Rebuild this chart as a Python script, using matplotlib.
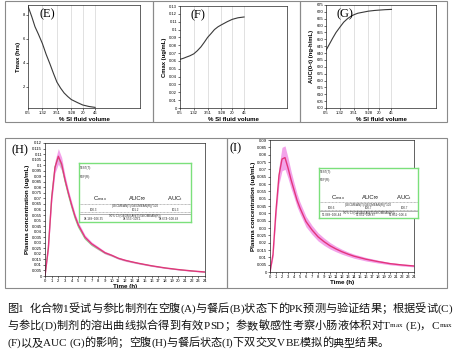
import matplotlib
matplotlib.use('Agg')
import matplotlib.pyplot as plt
import matplotlib.transforms as mtrans
from matplotlib.patches import Rectangle
from matplotlib.lines import Line2D
from matplotlib.ticker import FuncFormatter

# ---------------- data ----------------
si_ticks = [0.5, 1.32, 3.51, 9.28, 20, 46]
si_tick_labels = ['0.5', '1.32', '3.51', '9.28', '20', '46']
si_x = [0.5, 0.65, 0.8, 1.0, 1.32, 1.7, 2.2, 2.8, 3.51, 4.5, 5.7, 7.3, 9.28, 14, 20, 30, 46]
tmax_hrs = [8.7, 7.8, 7.0, 6.4, 5.6, 4.7, 3.9, 3.1, 2.4, 1.9, 1.5, 1.2, 0.95, 0.7, 0.5, 0.38, 0.3]
cmax_ugml = [0.062, 0.0635, 0.065, 0.0665, 0.069, 0.073, 0.078, 0.084, 0.090, 0.095, 0.100, 0.1035,
             0.106, 0.110, 0.113, 0.115, 0.116]
auc_nghml = [642, 647, 651, 655, 659, 662.5, 665, 666.8, 668, 669, 669.5, 670, 670.5, 671, 671.3, 671.6, 671.8]

time_h = [0, 0.5, 1, 1.5, 2, 2.5, 3, 3.5, 4, 4.5, 5, 6, 7, 8, 9, 10, 11, 12, 13, 14, 16, 18, 20, 22, 24]
h_mean = [0, 0.025, 0.070, 0.098, 0.108, 0.101, 0.087, 0.075, 0.064, 0.054, 0.046, 0.035, 0.029, 0.025,
          0.021, 0.0187, 0.016, 0.0142, 0.0128, 0.0115, 0.0092, 0.0073, 0.0058, 0.0046, 0.0036]
h_low = [0, 0.023, 0.066, 0.093, 0.101, 0.095, 0.083, 0.072, 0.061, 0.0515, 0.0435, 0.033, 0.0273, 0.0235,
         0.0198, 0.0177, 0.0151, 0.0133, 0.012, 0.0108, 0.0086, 0.0068, 0.0054, 0.0042, 0.0032]
h_high = [0, 0.027, 0.074, 0.104, 0.115, 0.107, 0.091, 0.078, 0.067, 0.0565, 0.0485, 0.037, 0.0307, 0.0265,
          0.0222, 0.0197, 0.0169, 0.0151, 0.0136, 0.0122, 0.0098, 0.0078, 0.0062, 0.005, 0.004]
h_ref = [0, 0.026, 0.072, 0.099, 0.107, 0.099, 0.085, 0.073, 0.062, 0.052, 0.0442, 0.0335, 0.0278, 0.0241,
         0.0205, 0.0183, 0.0157, 0.014, 0.0126, 0.0113, 0.0091, 0.0072, 0.0057, 0.0045, 0.0035]

i_mean = [0, 0.012, 0.042, 0.066, 0.077, 0.078, 0.071, 0.063, 0.056, 0.049, 0.0436, 0.0344, 0.0287, 0.024,
          0.0207, 0.0179, 0.0157, 0.0138, 0.0122, 0.0108, 0.0087, 0.0071, 0.0057, 0.0048, 0.0041]
i_low = [0, 0.010, 0.038, 0.060, 0.069, 0.070, 0.064, 0.057, 0.051, 0.0445, 0.0396, 0.0308, 0.0256, 0.0212,
         0.0182, 0.0157, 0.0138, 0.0121, 0.0107, 0.0094, 0.0075, 0.0061, 0.0049, 0.0041, 0.0035]
i_high = [0, 0.014, 0.046, 0.072, 0.085, 0.086, 0.078, 0.069, 0.061, 0.0535, 0.0476, 0.038, 0.0318, 0.0268,
          0.0232, 0.0201, 0.0176, 0.0155, 0.0137, 0.0122, 0.0099, 0.0081, 0.0065, 0.0055, 0.0047]

inset_headers = ['C$_{\\mathrm{max}}$', 'AUC\u221e', 'AUC$_{\\mathrm{t}}$']
h_gmr = ['100.3', '101.2', '101.3']
h_ci = ['94.189~106.35', '94.553~108.1', '94.674~108.48']
i_gmr = ['100.6', '100.7', '100.7']
i_ci = ['95.088~106.44', '95.051~106.37', '95.051~106.4']

caption_l1 = '图1  化合物1受试与参比制剂在空腹(A)与餐后(B)状态下的PK预测与验证结果；根据受试(C)'
caption_l2 = ['与参比(D)制剂的溶出曲线拟合得到有效PSD；参数敏感性考察小肠液体积对T', 'max', '(E)，C', 'max']
caption_l3 = '(F)以及AUC (G)的影响；空腹(H)与餐后状态(I)下双交叉VBE模拟的典型结果。'

# ---------------- figure ----------------
W, H = 456, 355
fig = plt.figure(figsize=(W / 100, H / 100), dpi=100)
fig.patch.set_facecolor('white')
SANS = 'Liberation Sans'
SERIF = 'Liberation Serif'
CAP = [SERIF, 'Noto Sans CJK SC']
plt.rcParams['mathtext.fontset'] = 'custom'
plt.rcParams['mathtext.rm'] = SANS
plt.rcParams['mathtext.it'] = SANS + ':italic'


def ax_px(l, t, r, b):
    return fig.add_axes([l / W, 1 - b / H, (r - l) / W, (b - t) / H])


def frame(x0, y0, x1, y1):
    fig.add_artist(Rectangle((x0 / W, 1 - y1 / H), (x1 - x0) / W, (y1 - y0) / H,
                             transform=fig.transFigure, fill=False, ec='#8a8a8a', lw=0.8))


frame(5, 1, 153, 122)
frame(153, 1, 300, 122)
frame(300, 1, 447, 122)
frame(5, 138, 227, 288)
frame(227, 138, 447, 288)

fmt = FuncFormatter(lambda v, p: '{:g}'.format(round(v, 4)))


def style(ax):
    for s in ax.spines.values():
        s.set_linewidth(0.5)
        s.set_color('#222222')
    ax.tick_params(labelsize=3, length=1.3, width=0.4, pad=0.8)
    for lab in ax.get_xticklabels() + ax.get_yticklabels():
        lab.set_fontfamily(SANS)


def top_panel(box, y, ylim, yticks, ylabel, label, xmax):
    ax = ax_px(*box)
    ax.plot(si_x, y, color='#3a3a3a', lw=0.8)
    ax.set_xscale('log')
    ax.set_xlim(0.5, xmax)
    ax.set_xticks(si_ticks)
    ax.set_xticklabels(si_tick_labels)
    ax.set_xticks([], minor=True)
    for v in si_ticks[1:]:
        ax.axvline(v, color='#d4d4d4', lw=0.5, zorder=0)
    ax.set_ylim(*ylim)
    ax.set_yticks(yticks)
    ax.yaxis.set_major_formatter(fmt)
    ax.set_ylabel(ylabel, fontsize=4.2, fontfamily=SANS, fontweight='bold', labelpad=1.5)
    ax.set_xlabel('% SI fluid volume', fontsize=4.4, fontfamily=SANS, fontweight='bold', labelpad=1.2)
    ax.text(0.1, 0.97, label, transform=ax.transAxes, fontsize=9, fontfamily=SERIF, va='top', ha='left')
    style(ax)
    return ax


top_panel((28, 5, 140, 108), tmax_hrs, (0.25, 8.8), [2, 4, 6, 8], 'Tmax (hrs)', '(E)', 950)
top_panel((180, 6, 287, 108), cmax_ugml, (0, 0.13), [round(0.01 * k, 2) for k in range(14)],
          'Cmax (ug/mL)', '(F)', 950)
top_panel((326, 5, 436, 108), auc_nghml, (600, 675), list(range(600, 676, 5)),
          'AUC(0-t) (ng-h/mL)', '(G)', 1000)


def pk_panel(box, mean, low, high, ref, ymax, label, label_px, inset_box, gmr, ci):
    ax = ax_px(*box)
    ax.fill_between(time_h, low, high, color='#f3a3ea', lw=0, zorder=1)
    if ref is not None:
        ax.plot(time_h, ref, color='#8fdc8f', lw=0.7, zorder=1.5)
    ax.plot(time_h, mean, color='#e3357c', lw=1.0, zorder=2)
    ax.set_xlim(0, 24)
    ax.set_ylim(0, ymax)
    ax.set_xticks(range(25))
    ax.set_yticks([round(0.005 * k, 3) for k in range(int(round(ymax / 0.005)) + 1)])
    ax.yaxis.set_major_formatter(fmt)
    ax.set_xlabel('Time (h)', fontsize=4.5, fontfamily=SANS, fontweight='bold', labelpad=0.8)
    ax.set_ylabel('Plasma concentration (ug/mL)', fontsize=4.5, fontfamily=SANS, fontweight='bold', labelpad=1.0)
    style(ax)
    fig.text(label_px[0] / W, 1 - label_px[1] / H, label, fontsize=9, fontfamily=SERIF, va='center', ha='left')

    ia = ax_px(*inset_box)
    ia.set_xticks([])
    ia.set_yticks([])
    ia.set_xlim(0, 1)
    ia.set_ylim(0, 1)
    for s in ia.spines.values():
        s.set_color('#7be07b')
        s.set_linewidth(1.0)
    tiny = dict(fontsize=2.2, fontfamily=SANS, color='#333333')
    ia.text(0.01, 0.95, 'TEST(T):', va='top', **tiny)
    ia.text(0.01, 0.80, 'REF(R):', va='top', **tiny)
    for k, (hx, g, c) in enumerate(zip(inset_headers, gmr, ci)):
        xc = [0.19, 0.52, 0.86][k]
        ia.text(xc, 0.40, hx, ha='center', va='center', fontsize=4.3, fontfamily=SANS, color='#222222')
        ia.text([0.13, 0.50, 0.86][k], 0.205, g, ha='center', va='center', **tiny)
        ia.text([0.13, 0.47, 0.80][k], 0.05, c, ha='center', va='center', **tiny)
    ia.text(0.5, 0.265, '(GEOMEAN(T)/GEOMEAN(R))*100', ha='center', va='center', **tiny)
    ia.text(0.5, 0.10, '90% CI (GEOMEAN(T)/GEOMEAN(R))', ha='center', va='center', **tiny)
    for yy, ls in [(0.31, (0, (1.5, 1))), (0.165, (0, (1.5, 1))), (0.135, '-')]:
        ia.add_line(Line2D([0, 1], [yy, yy], color='#777777', lw=0.4, ls=ls))
    return ax


pk_panel((45, 143, 205, 276), h_mean, h_low, h_high, h_ref, 0.12, '(H)', (12, 150),
         (79, 163, 191, 222), h_gmr, h_ci)
pk_panel((270, 140, 414, 272), i_mean, i_low, i_high, None, 0.09, '(I)', (230, 148),
         (319, 168, 418, 218), i_gmr, i_ci)

# ---------------- caption (justified, glyph by glyph) ----------------
renderer = fig.canvas.get_renderer()
ident = mtrans.IdentityTransform()
SUB = 0.64
_cache = {}


def width(s, size):
    key = (s, round(size, 4))
    if key not in _cache:
        t = fig.text(0, 0, s, fontsize=size, fontfamily=CAP, transform=ident)
        _cache[key] = t.get_window_extent(renderer).width
        t.remove()
    return _cache[key]


def layout(s, size):
    pos = []
    for i, ch in enumerate(s):
        if ch == ' ':
            continue
        pos.append((ch, width(s[:i + 1], size) - width(ch, size)))
    return pos, width(s, size)


def draw_line(y, segs, size, x0=7, x1=None):
    # segs: (text, rel size, baseline shift px, gap before px)
    plan = []
    nx = x0
    for s, rel, dy, gap in segs:
        nx += gap
        pos, w = layout(s, size * rel)
        plan.append((nx, pos, rel, dy))
        nx += w
    n = sum(len(p[1]) for p in plan)
    extra = 0.0 if x1 is None else max(0.0, (x1 - nx) / (n - 1))
    g = 0
    for start, pos, rel, dy in plan:
        for ch, p in pos:
            fig.text(start + p + extra * g, H - y - dy, ch, fontsize=size * rel, fontfamily=CAP,
                     transform=ident, va='baseline', ha='left', color='#111111')
            g += 1
    return nx


seg1 = [(caption_l1, 1, 0, 0)]
seg2 = [(caption_l2[0], 1, 0, 0), (caption_l2[1], SUB, -2, 0.5), (caption_l2[2], 1, 0, 3),
        (caption_l2[3], SUB, -2, 0.5)]
seg3 = [(caption_l3, 1, 0, 0)]

base = 8.0
CS = base * (390 - 7) / width(caption_l3, base)
draw_line(312, seg1, CS, x1=452)
draw_line(329, seg2, CS, x1=452)
draw_line(346, seg3, CS)

fig.savefig('out.png', dpi=100, facecolor='white')
